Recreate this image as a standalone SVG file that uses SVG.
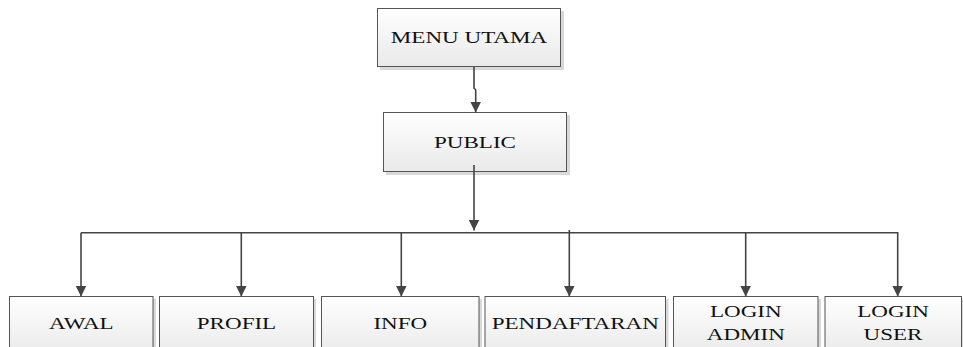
<svg xmlns="http://www.w3.org/2000/svg" width="963" height="347" viewBox="0 0 963 347">
<style>
.box{fill:url(#g);stroke:#555;stroke-width:1}
.sh{fill:#d9d9d9}
.t{font-family:"Liberation Serif","Times New Roman",serif;font-size:17.6px;fill:#111;text-anchor:middle}
.c{fill:none;stroke:#444;stroke-width:1.6}
</style>
<defs>
<linearGradient id="g" x1="0" y1="0" x2="0" y2="1">
<stop offset="0" stop-color="#ffffff"/>
<stop offset="1" stop-color="#e9e9e9"/>
</linearGradient>
<marker id="a" markerUnits="userSpaceOnUse" markerWidth="12" markerHeight="12" refX="11" refY="5.5" orient="auto">
<path d="M0,0 L11,5.5 L0,11 z" fill="#444"/>
</marker>
</defs>
<g id="menu-utama">
<rect class="sh" x="380" y="11" width="184" height="59"/>
<rect class="box" x="377.5" y="8.5" width="183" height="58"/>
<text class="t" transform="translate(469,43.3) scale(1.31,1)">MENU UTAMA</text>
</g>
<g id="public">
<rect class="sh" x="386" y="115" width="184" height="60"/>
<rect class="box" x="383.5" y="112.5" width="183" height="59"/>
<text class="t" transform="translate(475,147.7) scale(1.31,1)">PUBLIC</text>
</g>
<g id="awal">
<rect class="sh" x="12" y="299" width="144" height="60"/>
<rect class="box" x="9.5" y="296.5" width="143.5" height="60"/>
<text class="t" transform="translate(81.3,329) scale(1.31,1)">AWAL</text>
</g>
<g id="profil">
<rect class="sh" x="162" y="299" width="154" height="60"/>
<rect class="box" x="159.5" y="296.5" width="154" height="60"/>
<text class="t" transform="translate(236.5,329) scale(1.31,1)">PROFIL</text>
</g>
<g id="info">
<rect class="sh" x="324" y="299" width="158" height="60"/>
<rect class="box" x="321.5" y="296.5" width="157.5" height="60"/>
<text class="t" transform="translate(400.3,329) scale(1.31,1)">INFO</text>
</g>
<g id="pendaftaran">
<rect class="sh" x="487.5" y="299" width="181" height="60"/>
<rect class="box" x="485" y="296.5" width="180.5" height="60"/>
<text class="t" transform="translate(575.3,329) scale(1.31,1)">PENDAFTARAN</text>
</g>
<g id="login-admin">
<rect class="sh" x="676" y="299" width="145" height="60"/>
<rect class="box" x="673.5" y="296.5" width="144.5" height="60"/>
<text class="t" transform="translate(745.8,316.7) scale(1.31,1)">LOGIN</text>
<text class="t" transform="translate(745.8,339.5) scale(1.31,1)">ADMIN</text>
</g>
<g id="login-user">
<rect class="sh" x="827.5" y="299" width="136" height="60"/>
<rect class="box" x="825" y="296.5" width="136.5" height="60"/>
<text class="t" transform="translate(893,316.7) scale(1.31,1)">LOGIN</text>
<text class="t" transform="translate(893,339.5) scale(1.31,1)">USER</text>
</g>
<g id="connectors">
<path class="c" d="M474,67 V88 L475.7,90 V112.5" marker-end="url(#a)"/>
<path class="c" d="M474,165 V230.5" marker-end="url(#a)"/>
<path class="c" d="M81,232.7 H897.7"/>
<path class="c" d="M81,232.7 V296.5" marker-end="url(#a)"/>
<path class="c" d="M241.3,232.7 V296.5" marker-end="url(#a)"/>
<path class="c" d="M401.3,232.7 V296.5" marker-end="url(#a)"/>
<path class="c" d="M569.3,230 V296.5" marker-end="url(#a)"/>
<path class="c" d="M745.7,232.7 V296.5" marker-end="url(#a)"/>
<path class="c" d="M897.7,232 V296.5" marker-end="url(#a)"/>
</g>
</svg>
